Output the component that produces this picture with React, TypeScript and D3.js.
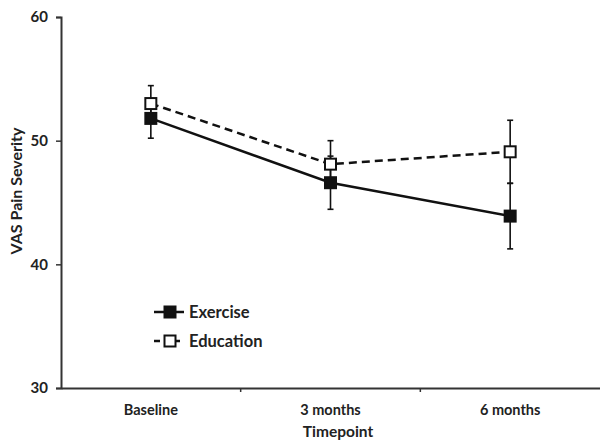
import { useEffect, useRef } from "react";
import * as d3 from "d3";

const timepoints = ["Baseline", "3 months", "6 months"];
const exerciseMeans = [51.8, 46.6, 43.9];
const exerciseErrors = [1.6, 2.15, 2.65];
const educationMeans = [53.0, 48.1, 49.1];
const educationErrors = [1.45, 1.9, 2.55];
const yTicks = [30, 40, 50, 60];

const FONT = "Lato, 'Open Sans', sans-serif";
const INK = "#111";
const AXIS = "#333";

export default function App() {
  const svgRef = useRef<SVGSVGElement | null>(null);

  useEffect(() => {
    const svg = d3.select(svgRef.current);
    svg.selectAll("*").remove();

    const width = 600;
    const height = 441;
    const margin = { top: 17, right: 0, bottom: 53, left: 61 };
    const innerW = width - margin.left - margin.right;
    const innerH = height - margin.top - margin.bottom;

    const g = svg
      .append("g")
      .attr("transform", `translate(${margin.left},${margin.top})`);

    const x = d3.scaleBand().domain(timepoints).range([0, innerW]);
    const y = d3.scaleLinear().domain([30, 60]).range([innerH, 0]);
    const cx = (d: string) => (x(d) as number) + x.bandwidth() / 2;

    // y axis
    const yAxis = g
      .append("g")
      .call(d3.axisLeft(y).tickValues(yTicks).tickSize(5).tickPadding(8));
    yAxis.select(".domain").attr("stroke", AXIS).attr("stroke-width", 2);
    yAxis.selectAll(".tick line").attr("stroke", AXIS).attr("stroke-width", 1.5);
    yAxis
      .selectAll(".tick text")
      .attr("font-family", FONT)
      .attr("font-weight", "bold")
      .attr("font-size", 15)
      .attr("fill", "#222");

    // x axis
    const xAxis = g
      .append("g")
      .attr("transform", `translate(0,${innerH})`)
      .call(d3.axisBottom(x).tickSize(0).tickPadding(17));
    xAxis.select(".domain").attr("stroke", AXIS).attr("stroke-width", 2);
    xAxis
      .selectAll(".tick text")
      .attr("font-family", FONT)
      .attr("font-weight", "bold")
      .attr("font-size", 14.5)
      .attr("fill", "#222");

    // boundary ticks between categories
    g.append("g")
      .selectAll("line")
      .data(timepoints.slice(1))
      .join("line")
      .attr("x1", (d) => x(d) as number)
      .attr("x2", (d) => x(d) as number)
      .attr("y1", innerH)
      .attr("y2", innerH + 4)
      .attr("stroke", AXIS)
      .attr("stroke-width", 1.5);

    // axis titles
    svg
      .append("text")
      .attr("x", 338)
      .attr("y", 437)
      .attr("text-anchor", "middle")
      .attr("font-family", FONT)
      .attr("font-weight", "bold")
      .attr("font-size", 15.5)
      .attr("fill", "#222")
      .text("Timepoint");

    svg
      .append("text")
      .attr("transform", "translate(22,191) rotate(-90)")
      .attr("text-anchor", "middle")
      .attr("font-family", FONT)
      .attr("font-weight", "bold")
      .attr("font-size", 16)
      .attr("fill", "#222")
      .text("VAS Pain Severity");

    const series = [
      { name: "Exercise", means: exerciseMeans, errs: exerciseErrors, dash: null, fill: INK },
      { name: "Education", means: educationMeans, errs: educationErrors, dash: "8,5", fill: "#fff" },
    ];

    // error bars
    series.forEach((s) => {
      const eb = g.append("g");
      timepoints.forEach((t, i) => {
        const px = cx(t);
        const hi = y(s.means[i] + s.errs[i]);
        const lo = y(s.means[i] - s.errs[i]);
        eb.append("line")
          .attr("x1", px).attr("x2", px)
          .attr("y1", hi).attr("y2", lo)
          .attr("stroke", INK).attr("stroke-width", 1.6);
        [hi, lo].forEach((yy) =>
          eb.append("line")
            .attr("x1", px - 3).attr("x2", px + 3)
            .attr("y1", yy).attr("y2", yy)
            .attr("stroke", INK).attr("stroke-width", 1.6)
        );
      });
    });

    const line = d3
      .line<number>()
      .x((_, i) => cx(timepoints[i]))
      .y((d) => y(d));

    series.forEach((s) => {
      g.append("path")
        .datum(s.means)
        .attr("d", line)
        .attr("fill", "none")
        .attr("stroke", INK)
        .attr("stroke-width", 2.5)
        .attr("stroke-dasharray", s.dash);
    });

    const size = 11;
    series.forEach((s) => {
      g.append("g")
        .selectAll("rect")
        .data(s.means)
        .join("rect")
        .attr("x", (_, i) => cx(timepoints[i]) - size / 2)
        .attr("y", (d) => y(d) - size / 2)
        .attr("width", size)
        .attr("height", size)
        .attr("fill", s.fill)
        .attr("stroke", INK)
        .attr("stroke-width", 2);
    });

    // legend
    const legend = svg.append("g").attr("transform", "translate(154,312)");
    series.forEach((s, i) => {
      const row = legend.append("g").attr("transform", `translate(0,${i * 29})`);
      row.append("line")
        .attr("x1", 0).attr("x2", 30)
        .attr("y1", 0).attr("y2", 0)
        .attr("stroke", INK).attr("stroke-width", 2.5)
        .attr("stroke-dasharray", s.dash ? "6,4" : null);
      row.append("rect")
        .attr("x", 16 - size / 2).attr("y", -size / 2)
        .attr("width", size).attr("height", size)
        .attr("fill", s.fill).attr("stroke", INK).attr("stroke-width", 2);
      row.append("text")
        .attr("x", 35)
        .attr("y", 0)
        .attr("dy", "0.35em")
        .attr("font-family", FONT)
        .attr("font-weight", "bold")
        .attr("font-size", 16.5)
        .attr("fill", "#222")
        .text(s.name);
    });
  }, []);

  return (
    <svg
      ref={svgRef}
      width={600}
      height={441}
      style={{ position: "absolute", left: 0, top: 0, background: "#fff" }}
    />
  );
}
